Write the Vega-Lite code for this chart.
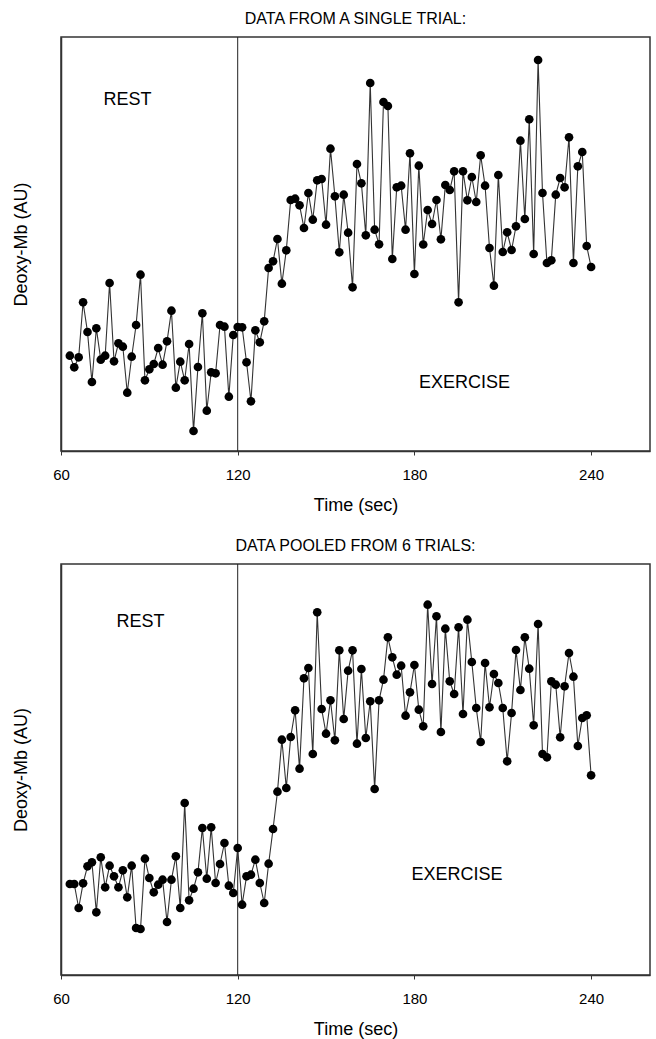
{
  "$schema": "https://vega.github.io/schema/vega-lite/v6.json",
  "background": "white",
  "padding": {"left": 11, "top": 9, "right": 2, "bottom": 1},
  "spacing": 21,
  "data": {"values": [
    {"t":63,"single":95.3,"pooled":91},
    {"t":64.5,"single":83.7,"pooled":91},
    {"t":66,"single":93.7,"pooled":67},
    {"t":67.5,"single":148.7,"pooled":91.7},
    {"t":69,"single":119,"pooled":108.7},
    {"t":70.5,"single":69,"pooled":112.7},
    {"t":72,"single":122.7,"pooled":62.7},
    {"t":73.5,"single":91.3,"pooled":117.7},
    {"t":75,"single":95.3,"pooled":87.7},
    {"t":76.5,"single":168,"pooled":109.3},
    {"t":78,"single":89.7,"pooled":98.7},
    {"t":79.5,"single":107.7,"pooled":87.7},
    {"t":81,"single":104.3,"pooled":104.7},
    {"t":82.5,"single":58.3,"pooled":77.7},
    {"t":84,"single":94.3,"pooled":109.3},
    {"t":85.5,"single":126,"pooled":47},
    {"t":87,"single":176.3,"pooled":46},
    {"t":88.5,"single":70.7,"pooled":116.3},
    {"t":90,"single":81.7,"pooled":97},
    {"t":91.5,"single":87,"pooled":82.7},
    {"t":93,"single":103,"pooled":90.3},
    {"t":94.5,"single":86.3,"pooled":95.3},
    {"t":96,"single":109.7,"pooled":53},
    {"t":97.5,"single":140.3,"pooled":95.3},
    {"t":99,"single":63.3,"pooled":118.7},
    {"t":100.5,"single":89.3,"pooled":67},
    {"t":102,"single":70.7,"pooled":172},
    {"t":103.5,"single":107,"pooled":74.7},
    {"t":105,"single":20,"pooled":86.3},
    {"t":106.5,"single":84,"pooled":102.7},
    {"t":108,"single":137.7,"pooled":147},
    {"t":109.5,"single":40.3,"pooled":96.3},
    {"t":111,"single":78.7,"pooled":147.7},
    {"t":112.5,"single":77.7,"pooled":92},
    {"t":114,"single":126,"pooled":111},
    {"t":115.5,"single":124.3,"pooled":132},
    {"t":117,"single":54.3,"pooled":89.3},
    {"t":118.5,"single":116,"pooled":82},
    {"t":120,"single":124,"pooled":127},
    {"t":121.5,"single":123.7,"pooled":70.3},
    {"t":123,"single":88.7,"pooled":98.7},
    {"t":124.5,"single":49.7,"pooled":100.3},
    {"t":126,"single":120.7,"pooled":115.3},
    {"t":127.5,"single":108.7,"pooled":92},
    {"t":129,"single":129.7,"pooled":72},
    {"t":130.5,"single":183,"pooled":111.3},
    {"t":132,"single":189.7,"pooled":146},
    {"t":133.5,"single":212,"pooled":183.3},
    {"t":135,"single":167.3,"pooled":235.3},
    {"t":136.5,"single":200.7,"pooled":187},
    {"t":138,"single":251,"pooled":238},
    {"t":139.5,"single":252.3,"pooled":264.7},
    {"t":141,"single":245.7,"pooled":206.3},
    {"t":142.5,"single":223,"pooled":296.7},
    {"t":144,"single":258,"pooled":307},
    {"t":145.5,"single":231.3,"pooled":221},
    {"t":147,"single":270.7,"pooled":362.7},
    {"t":148.5,"single":272,"pooled":266},
    {"t":150,"single":226.3,"pooled":241.3},
    {"t":151.5,"single":302.3,"pooled":274.7},
    {"t":153,"single":254.7,"pooled":234.7},
    {"t":154.5,"single":198.7,"pooled":324.7},
    {"t":156,"single":256.3,"pooled":256},
    {"t":157.5,"single":218.3,"pooled":304.3},
    {"t":159,"single":163.7,"pooled":324.7},
    {"t":160.5,"single":287,"pooled":231.3},
    {"t":162,"single":267.7,"pooled":306},
    {"t":163.5,"single":215.7,"pooled":237},
    {"t":165,"single":368,"pooled":273.7},
    {"t":166.5,"single":221.3,"pooled":186},
    {"t":168,"single":206.7,"pooled":274.7},
    {"t":169.5,"single":349,"pooled":295.3},
    {"t":171,"single":345,"pooled":337.7},
    {"t":172.5,"single":192,"pooled":317.7},
    {"t":174,"single":263.7,"pooled":300.3},
    {"t":175.5,"single":265.3,"pooled":309.3},
    {"t":177,"single":221.3,"pooled":259.3},
    {"t":178.5,"single":297.7,"pooled":282.7},
    {"t":180,"single":177,"pooled":310},
    {"t":181.5,"single":285.3,"pooled":265.3},
    {"t":183,"single":206.5,"pooled":248.7},
    {"t":184.5,"single":241,"pooled":370.3},
    {"t":186,"single":227,"pooled":291},
    {"t":187.5,"single":251,"pooled":358.7},
    {"t":189,"single":211.7,"pooled":243},
    {"t":190.5,"single":266,"pooled":346.3},
    {"t":192,"single":261,"pooled":293.7},
    {"t":193.5,"single":279.7,"pooled":281},
    {"t":195,"single":148.7,"pooled":347.7},
    {"t":196.5,"single":279.7,"pooled":261},
    {"t":198,"single":250.7,"pooled":355.3},
    {"t":199.5,"single":274,"pooled":313},
    {"t":201,"single":249,"pooled":267},
    {"t":202.5,"single":295.7,"pooled":233},
    {"t":204,"single":265.3,"pooled":312},
    {"t":205.5,"single":203,"pooled":267.7},
    {"t":207,"single":165.3,"pooled":301},
    {"t":208.5,"single":276,"pooled":292},
    {"t":210,"single":199,"pooled":267},
    {"t":211.5,"single":218.7,"pooled":213.7},
    {"t":213,"single":201,"pooled":262},
    {"t":214.5,"single":224.7,"pooled":325},
    {"t":216,"single":310.3,"pooled":285},
    {"t":217.5,"single":232,"pooled":337.7},
    {"t":219,"single":331.7,"pooled":306.3},
    {"t":220.5,"single":197,"pooled":249.7},
    {"t":222,"single":391,"pooled":351},
    {"t":223.5,"single":258,"pooled":221},
    {"t":225,"single":188,"pooled":217.7},
    {"t":226.5,"single":190.7,"pooled":293.7},
    {"t":228,"single":256.3,"pooled":290.3},
    {"t":229.5,"single":273,"pooled":237.7},
    {"t":231,"single":263.7,"pooled":288.7},
    {"t":232.5,"single":313.7,"pooled":322},
    {"t":234,"single":188,"pooled":298.3},
    {"t":235.5,"single":284.7,"pooled":229},
    {"t":237,"single":299,"pooled":257},
    {"t":238.5,"single":205,"pooled":259.7},
    {"t":240,"single":184,"pooled":199.7}
  ]},
  "vconcat": [
    {
      "title": {"text": "DATA FROM A SINGLE TRIAL:"},
      "width": 589,
      "height": 414,
      "layer": [
        {
          "data": {"values": [{}]},
          "mark": {"type": "rule", "color": "#222", "strokeWidth": 1},
          "encoding": {"x": {"datum": 120, "type": "quantitative"}}
        },
        {
          "mark": {"type": "line", "color": "#333", "strokeWidth": 1.1},
          "encoding": {
            "x": {"field": "t", "type": "quantitative", "scale": {"domain": [60, 260], "nice": false, "zero": false},
                  "axis": {"values": [60, 120, 180, 240], "format": "d", "title": "Time (sec)"}},
            "y": {"field": "single", "type": "quantitative", "scale": {"domain": [0, 414], "nice": false},
                  "axis": {"title": "Deoxy-Mb (AU)", "ticks": false, "labels": false}}
          }
        },
        {
          "mark": {"type": "point", "filled": true, "color": "black", "opacity": 1, "size": 75, "shape": "circle"},
          "encoding": {
            "x": {"field": "t", "type": "quantitative"},
            "y": {"field": "single", "type": "quantitative"}
          }
        },
        {
          "data": {"values": [{}]},
          "mark": {"type": "text", "fontSize": 18, "color": "black"},
          "encoding": {"x": {"datum": 82.6, "type": "quantitative"}, "y": {"datum": 351, "type": "quantitative"}, "text": {"value": "REST"}}
        },
        {
          "data": {"values": [{}]},
          "mark": {"type": "text", "fontSize": 18, "color": "black"},
          "encoding": {"x": {"datum": 197, "type": "quantitative"}, "y": {"datum": 68, "type": "quantitative"}, "text": {"value": "EXERCISE"}}
        }
      ]
    },
    {
      "title": {"text": "DATA POOLED FROM 6 TRIALS:"},
      "width": 589,
      "height": 411,
      "layer": [
        {
          "data": {"values": [{}]},
          "mark": {"type": "rule", "color": "#222", "strokeWidth": 1},
          "encoding": {"x": {"datum": 120, "type": "quantitative"}}
        },
        {
          "mark": {"type": "line", "color": "#333", "strokeWidth": 1.1},
          "encoding": {
            "x": {"field": "t", "type": "quantitative", "scale": {"domain": [60, 260], "nice": false, "zero": false},
                  "axis": {"values": [60, 120, 180, 240], "format": "d", "title": "Time (sec)"}},
            "y": {"field": "pooled", "type": "quantitative", "scale": {"domain": [0, 411], "nice": false},
                  "axis": {"title": "Deoxy-Mb (AU)", "ticks": false, "labels": false}}
          }
        },
        {
          "mark": {"type": "point", "filled": true, "color": "black", "opacity": 1, "size": 75, "shape": "circle"},
          "encoding": {
            "x": {"field": "t", "type": "quantitative"},
            "y": {"field": "pooled", "type": "quantitative"}
          }
        },
        {
          "data": {"values": [{}]},
          "mark": {"type": "text", "fontSize": 18, "color": "black"},
          "encoding": {"x": {"datum": 87, "type": "quantitative"}, "y": {"datum": 353, "type": "quantitative"}, "text": {"value": "REST"}}
        },
        {
          "data": {"values": [{}]},
          "mark": {"type": "text", "fontSize": 18, "color": "black"},
          "encoding": {"x": {"datum": 194.5, "type": "quantitative"}, "y": {"datum": 100, "type": "quantitative"}, "text": {"value": "EXERCISE"}}
        }
      ]
    }
  ],
  "config": {
    "font": "Liberation Sans",
    "view": {"stroke": "#333", "strokeWidth": 1.5},
    "axis": {
      "grid": false,
      "domainColor": "#333",
      "domainWidth": 1.5,
      "tickColor": "#333",
      "tickSize": 4,
      "labelFlush": false,
      "labelFont": "Liberation Sans",
      "labelFontSize": 15,
      "labelColor": "black",
      "labelPadding": 12,
      "titleFont": "Liberation Sans",
      "titleFontSize": 18,
      "titleFontWeight": "normal",
      "titleColor": "black"
    },
    "axisX": {"titlePadding": 14},
    "axisY": {"titlePadding": 31},
    "title": {"font": "Liberation Sans", "fontSize": 16, "fontWeight": "normal", "color": "black", "offset": 10, "anchor": "middle"}
  }
}
